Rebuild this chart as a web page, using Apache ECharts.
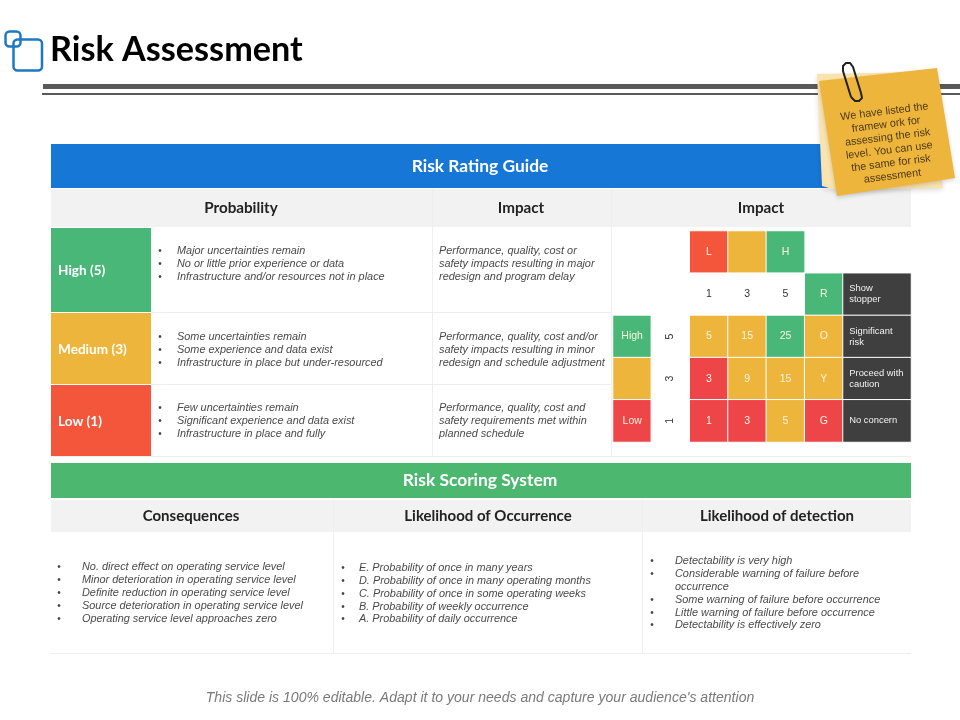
<!DOCTYPE html>
<html style="height: 100%">
<head>
    <meta charset="utf-8">
</head>
<body style="height: 100%; margin: 0; background: #fff">
<div id="container" style="width: 960px; height: 720px"></div>
<script src="https://cdn.jsdelivr.net/npm/echarts@6/dist/echarts.min.js"></script>
<script type="text/javascript">
    // slide text
    var titleText = 'Risk Assessment';
    var footerText = "This slide is 100% editable. Adapt it to your needs and capture your audience's attention";
    var noteLines = ['We have listed the', 'framew ork for', 'assessing the risk', 'level. You can use', 'the same for risk', 'assessment'];

    var guideHeaders = ['Probability', 'Impact', 'Impact'];
    var guideLevels = ['High (5)', 'Medium (3)', 'Low (1)'];
    var guideProbability = [
        ['Major uncertainties remain', 'No or little prior experience or data', 'Infrastructure and/or resources not in place'],
        ['Some uncertainties remain', 'Some experience and data exist', 'Infrastructure in place but under-resourced'],
        ['Few uncertainties remain', 'Significant experience and data exist', 'Infrastructure in place and fully']
    ];
    var guideImpact = [
        ['Performance, quality, cost or', 'safety impacts resulting in major', 'redesign and program delay'],
        ['Performance, quality, cost and/or', 'safety impacts resulting in minor', 'redesign and schedule adjustment'],
        ['Performance, quality, cost and', 'safety requirements met within', 'planned schedule']
    ];

    var scoringHeaders = ['Consequences', 'Likelihood of Occurrence', 'Likelihood of detection'];
    var consequences = [
        'No. direct effect on operating service level',
        'Minor deterioration in operating service level',
        'Definite reduction in operating service level',
        'Source deterioration in operating service level',
        'Operating service level approaches zero'
    ];
    var occurrence = [
        'E. Probability of once in many years',
        'D. Probability of once in many operating months',
        'C. Probability of once in some operating weeks',
        'B. Probability of weekly occurrence',
        'A. Probability of daily occurrence'
    ];
    // lines without the star are wrapped lines, no bullet
    var detection = [
        '* Detectability is very high',
        '* Considerable warning of failure before',
        'occurrence',
        '* Some warning of failure before occurrence',
        '* Little warning of failure before occurrence',
        '* Detectability is effectively zero'
    ];

    // risk matrix
    var matrixColumns = ['Rating', 'Score', '1', '3', '5', 'Flag'];
    var matrixRows = ['Impact', 'Scale', 'High', 'Medium', 'Low'];
    var matrixLabels = [
        ['', '', 'L', '', 'H', ''],
        ['', '', '1', '3', '5', 'R'],
        ['High', '5', '5', '15', '25', 'O'],
        ['', '3', '3', '9', '15', 'Y'],
        ['Low', '1', '1', '3', '5', 'G']
    ];
    var matrixLevels = [
        ['', '', 'orange', 'yellow', 'green', ''],
        ['', '', 'none', 'none', 'none', 'green'],
        ['green', 'none', 'yellow', 'yellow', 'green', 'yellow'],
        ['yellow', 'none', 'red', 'yellow', 'yellow', 'yellow'],
        ['red', 'none', 'red', 'red', 'yellow', 'red']
    ];
    var legendNotes = ['', 'Show\nstopper', 'Significant\nrisk', 'Proceed with\ncaution', 'No concern'];

    var levelColors = {green: '#48b778', yellow: '#eeb53c', orange: '#f4563c', red: '#ee4549', none: '#ffffff'};
    var bodyFont = '"Liberation Sans", Arial, sans-serif';
    var headFont = 'Lato, sans-serif';

    var elements = [];

    function box(x, y, w, h, color, z) {
        elements.push({type: 'rect', z: z || 1, shape: {x: x, y: y, width: w, height: h}, style: {fill: color}});
    }

    function label(x, y, text, font, color, align) {
        elements.push({
            type: 'text', z: 3, x: x, y: y,
            style: {text: text, font: font, fill: color, align: align || 'left', verticalAlign: 'middle'}
        });
    }

    function italicLines(lines, x, ys, bulletX) {
        for (var i = 0; i < lines.length; i++) {
            var line = lines[i];
            if (bulletX && line.indexOf('* ') === 0) {
                label(bulletX, ys[i] + 1, '•', '10px ' + bodyFont, '#444444', 'center');
                line = line.substring(2);
            }
            label(x, ys[i] + 1, line, 'italic 10.9px ' + bodyFont, '#4a4a4a');
        }
    }

    function bulleted(lines) {
        return lines.map(function (s) { return '* ' + s; });
    }

    // title block
    elements.push({type: 'rect', z: 2, shape: {x: 5.5, y: 31.5, width: 15, height: 15, r: 4}, style: {fill: 'none', stroke: '#1f78c1', lineWidth: 2.5}});
    elements.push({type: 'rect', z: 2, shape: {x: 13.5, y: 39.5, width: 28.5, height: 31, r: 4}, style: {fill: 'none', stroke: '#1f78c1', lineWidth: 2.5}});
    label(50, 49.5, titleText, 'bold 34.2px ' + headFont, '#000000');
    box(43, 84, 917, 5, '#595959');
    box(42, 93, 918, 2, '#595959');

    // risk rating guide
    box(51, 144, 860, 44, '#1777d6');
    label(480, 166.5, 'Risk Rating Guide', 'bold 17.4px ' + headFont, '#ffffff', 'center');
    box(51, 189, 860, 38, '#f2f2f2');
    label(241, 208, guideHeaders[0], 'bold 15.2px ' + headFont, '#222222', 'center');
    label(521, 208, guideHeaders[1], 'bold 15.2px ' + headFont, '#222222', 'center');
    label(761, 208, guideHeaders[2], 'bold 15.2px ' + headFont, '#222222', 'center');

    var guideTops = [228, 313, 385];
    var guideHeights = [84, 71, 71];
    var guideColors = ['#48b778', '#eeb53c', '#f4563c'];
    var guideLineY = [[250, 263, 276], [336, 349, 362], [407, 420, 433]];
    for (var r = 0; r < 3; r++) {
        box(51, guideTops[r], 100, guideHeights[r], guideColors[r], 2);
        label(58, guideTops[r] + (r === 0 ? 43 : 37), guideLevels[r], 'bold 13.6px ' + headFont, '#ffffff');
        italicLines(bulleted(guideProbability[r]), 177, guideLineY[r], 160);
        italicLines(guideImpact[r], 439, guideLineY[r]);
    }
    box(151, 312, 460, 1, '#eeeeee');
    box(151, 384, 460, 1, '#eeeeee');
    box(51, 456, 860, 1, '#f3eeee');
    box(432, 189, 1, 267, '#eeeeee');
    box(611, 189, 1, 267, '#eeeeee');

    // risk scoring system
    box(51, 463, 860, 35, '#4cb86f');
    label(480, 480.5, 'Risk Scoring System', 'bold 17.4px ' + headFont, '#ffffff', 'center');
    box(51, 500, 860, 32, '#f2f2f2');
    label(191, 516, scoringHeaders[0], 'bold 15px ' + headFont, '#222222', 'center');
    label(488, 516, scoringHeaders[1], 'bold 15px ' + headFont, '#222222', 'center');
    label(777, 516, scoringHeaders[2], 'bold 15px ' + headFont, '#222222', 'center');
    box(333, 500, 1, 153, '#eeeeee');
    box(642, 500, 1, 153, '#eeeeee');
    box(51, 653, 860, 1, '#eeeeee');
    italicLines(bulleted(consequences), 82, [566, 579, 592, 605, 618], 59);
    italicLines(bulleted(occurrence), 359, [567, 580, 593, 606, 618], 343);
    italicLines(detection, 675, [560, 573, 586, 599, 612, 624], 652);

    label(480, 698, footerText, 'italic 14.05px ' + bodyFont, '#7a7a7a', 'center');

    // sticky note
    elements.push({type: 'polygon', z: 10, shape: {points: [[817, 74], [925, 72], [943, 188], [836, 190], [822, 186]]}, style: {fill: '#f9e3ae', shadowBlur: 5, shadowColor: 'rgba(0,0,0,0.14)', shadowOffsetY: 2}});
    elements.push({type: 'polygon', z: 11, shape: {points: [[819, 81], [937, 68], [955, 178], [837, 196]]}, style: {fill: '#eeb53c', shadowBlur: 4, shadowColor: 'rgba(0,0,0,0.16)', shadowOffsetY: 2}});
    var noteChildren = [];
    for (var n = 0; n < noteLines.length; n++) {
        noteChildren.push({
            type: 'text', z: 12, x: 0, y: (n - 2.5) * 13,
            style: {text: noteLines[n], font: '10.8px ' + bodyFont, fill: '#4d3a14', align: 'center', verticalAlign: 'middle'}
        });
    }
    elements.push({type: 'group', z: 12, x: 888.5, y: 144, rotation: 0.125, children: noteChildren});
    elements.push({
        type: 'polyline', z: 13,
        shape: {
            points: [[851, 97], [843, 71], [843, 66], [846, 63], [850, 63], [853, 67], [861, 93], [862, 98], [859, 101], [855, 101], [851, 97]]
        },
        style: {fill: 'none', stroke: '#222222', lineWidth: 2}
    });

    // matrix cells, built from the label and level tables
    var cellData = [];
    matrixLabels.forEach(function (row, rowIndex) {
        row.forEach(function (text, colIndex) {
            var level = matrixLevels[rowIndex][colIndex];
            if (!level) {
                return;
            }
            cellData.push({
                value: [colIndex, rowIndex, 1],
                itemStyle: {color: levelColors[level]},
                label: {
                    color: level === 'none' ? '#333333' : '#fbf3e0',
                    rotate: colIndex === 1 ? 90 : 0
                }
            });
        });
    });
    var noteData = [];
    legendNotes.forEach(function (text, rowIndex) {
        if (text) {
            noteData.push([0, rowIndex, 1]);
        }
    });

    var myChart = echarts.init(document.getElementById('container'));
    myChart.setOption({
        animation: false,
        backgroundColor: '#ffffff',
        graphic: {elements: elements},
        grid: [
            {left: 613, top: 231, width: 230, height: 211},
            {left: 843, top: 231, width: 68, height: 211}
        ],
        xAxis: [
            {type: 'category', gridIndex: 0, data: matrixColumns, show: false},
            {type: 'category', gridIndex: 1, data: ['Meaning'], show: false}
        ],
        yAxis: [
            {type: 'category', gridIndex: 0, data: matrixRows, inverse: true, show: false},
            {type: 'category', gridIndex: 1, data: matrixRows, inverse: true, show: false}
        ],
        series: [
            {
                type: 'heatmap',
                xAxisIndex: 0,
                yAxisIndex: 0,
                data: cellData,
                itemStyle: {borderColor: '#ffffff', borderWidth: 1},
                emphasis: {disabled: true},
                label: {
                    show: true,
                    fontFamily: bodyFont,
                    fontSize: 10.5,
                    formatter: function (p) { return matrixLabels[p.value[1]][p.value[0]]; }
                }
            },
            {
                type: 'heatmap',
                xAxisIndex: 1,
                yAxisIndex: 1,
                data: noteData,
                itemStyle: {color: '#3f3f3f', borderColor: '#ffffff', borderWidth: 1},
                emphasis: {disabled: true},
                label: {
                    show: true,
                    position: [7, '50%'],
                    align: 'left',
                    verticalAlign: 'middle',
                    color: '#f2f2f2',
                    fontFamily: bodyFont,
                    fontSize: 9.4,
                    lineHeight: 11,
                    formatter: function (p) { return legendNotes[p.value[1]]; }
                }
            }
        ]
    });
</script>
</body>
</html>
